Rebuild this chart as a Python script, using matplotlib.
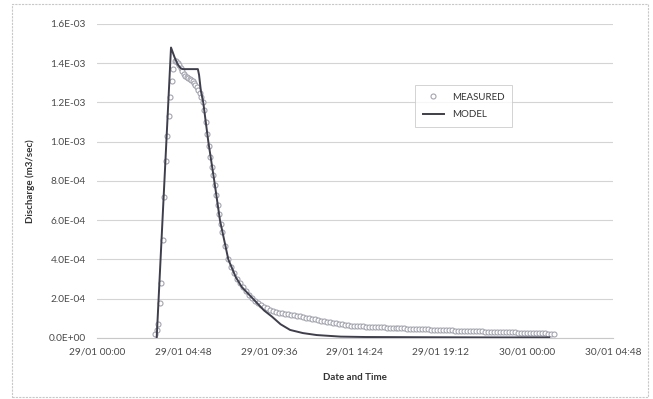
import datetime as dt
import matplotlib
matplotlib.use("Agg")
import matplotlib.pyplot as plt
import matplotlib.dates as mdates
from matplotlib.patches import Rectangle
from matplotlib.ticker import FuncFormatter, MultipleLocator
import pandas as pd

# Measured discharge (units of 1e-4 m3/sec), 5 min steps from 29/01 03:15
measured_fast = [0.2, 0.4, 0.7, 1.8, 2.8, 5.0, 7.2, 9.0, 10.3, 11.3, 12.3, 13.1,
                 13.7, 14.1, 14.1, 14.0, 13.9, 13.75, 13.6, 13.45, 13.35, 13.3,
                 13.25, 13.2, 13.15, 13.1, 13.0, 12.9, 12.8, 12.65, 12.5, 12.3,
                 12.05, 11.6, 11.0, 10.4, 9.8, 9.2, 8.7, 8.3, 7.8, 7.3, 6.8,
                 6.3, 5.8, 5.4]
# Measured discharge (units of 1e-4 m3/sec), 10 min steps from 29/01 07:10
measured_slow = [4.7, 4.05, 3.6, 3.3, 3.0, 2.8, 2.6, 2.4, 2.2, 2.05, 1.9, 1.78,
                 1.68, 1.6, 1.52, 1.45, 1.38, 1.32, 1.28, 1.25, 1.22, 1.2, 1.18,
                 1.16, 1.13, 1.1, 1.07, 1.04, 1.01, 0.98, 0.95, 0.92, 0.89, 0.86,
                 0.83, 0.8, 0.77, 0.74, 0.71, 0.69, 0.67, 0.65, 0.63, 0.62, 0.61,
                 0.6, 0.59, 0.58, 0.57, 0.565, 0.56, 0.55, 0.545, 0.54, 0.53,
                 0.52, 0.51, 0.5, 0.495, 0.49, 0.485, 0.48, 0.475, 0.47, 0.46,
                 0.455, 0.45, 0.44, 0.435, 0.43, 0.425, 0.42, 0.41, 0.405, 0.4,
                 0.39, 0.385, 0.38, 0.375, 0.37, 0.365, 0.36, 0.355, 0.35, 0.345,
                 0.34, 0.335, 0.33, 0.325, 0.32, 0.315, 0.31, 0.305, 0.3, 0.295,
                 0.29, 0.285, 0.28, 0.275, 0.27, 0.265, 0.26, 0.255, 0.25, 0.245,
                 0.24, 0.235, 0.23, 0.225, 0.22, 0.215]

# Model discharge (units of 1e-4 m3/sec)
model_times = ["29/01 03:20", "29/01 04:08", "29/01 04:20", "29/01 04:30",
               "29/01 04:40", "29/01 04:48", "29/01 05:38", "29/01 05:42",
               "29/01 05:48", "29/01 05:56", "29/01 06:13", "29/01 06:33",
               "29/01 06:52", "29/01 07:20", "29/01 07:45", "29/01 08:05",
               "29/01 08:30", "29/01 08:55", "29/01 09:20", "29/01 09:46",
               "29/01 10:15", "29/01 10:47", "29/01 11:30", "29/01 12:16",
               "29/01 13:36", "29/01 15:00", "29/01 18:00", "29/01 22:00",
               "30/01 01:15"]
model_values = [0.0, 14.8, 14.3, 13.95, 13.75, 13.7, 13.7, 13.4, 12.6, 12.0,
                10.0, 8.0, 6.0, 4.0, 3.1, 2.6, 2.2, 1.8, 1.4, 1.09, 0.7, 0.41,
                0.25, 0.15, 0.07, 0.05, 0.04, 0.03, 0.03]

YEAR = 2013
day0 = dt.datetime(YEAR, 1, 29)

t_fast = pd.date_range(day0 + dt.timedelta(hours=3, minutes=15), periods=len(measured_fast), freq="5min")
t_slow = pd.date_range(day0 + dt.timedelta(hours=7, minutes=10), periods=len(measured_slow), freq="10min")
meas_t = list(t_fast) + list(t_slow)
meas_v = [v * 1e-4 for v in measured_fast + measured_slow]

mod_t = [dt.datetime.strptime(f"{YEAR}/{s}", "%Y/%d/%m %H:%M") for s in model_times]
mod_v = [v * 1e-4 for v in model_values]

plt.rcParams["font.family"] = ["Lato", "DejaVu Sans"]

fig = plt.figure(figsize=(6.53, 3.99), dpi=100)
ax = fig.add_axes([0.1485, 0.1529, 0.79, 0.787])

# chart border
fig.patches.append(Rectangle((12 / 653, 2 / 399), 636 / 653, 393 / 399,
                             transform=fig.transFigure, fill=False,
                             edgecolor="#c8c8c8", lw=0.8, ls=(0, (2, 1))))

ax.plot(meas_t, meas_v, ls="none", marker="o", ms=3.6, mfc="white",
        mec="#a4a4b0", mew=0.8, label="MEASURED", zorder=3)
ax.plot(mod_t, mod_v, color="#3e3e4c", lw=1.4, label="MODEL", zorder=4)

ax.set_xlim(day0, day0 + dt.timedelta(hours=28.8))
ax.set_ylim(0, 1.6e-3)
ax.set_xticks([day0 + dt.timedelta(hours=4.8 * i) for i in range(7)])
ax.xaxis.set_major_formatter(mdates.DateFormatter("%d/%m %H:%M"))
ax.yaxis.set_major_locator(MultipleLocator(2e-4))
ax.yaxis.set_major_formatter(FuncFormatter(lambda v, pos: f"{v:.1E}"))

ax.grid(axis="y", color="#d4d4d4", lw=0.8)
ax.set_axisbelow(True)
for side in ["top", "right", "left"]:
    ax.spines[side].set_visible(False)
ax.spines["bottom"].set_color("#c8c8c8")
ax.tick_params(length=0, labelsize=7.3, colors="#4a4a4a", pad=7)
ax.tick_params(axis="y", pad=8)

ax.set_ylabel("Discharge (m3/sec)", fontsize=7, fontweight="bold", color="#333333", labelpad=10)
ax.set_xlabel("Date and Time", fontsize=7, fontweight="bold", color="#333333", labelpad=12)

leg = ax.legend(loc="upper left", bbox_to_anchor=(0.607, 0.822), fontsize=7,
                frameon=True, fancybox=False, edgecolor="#c8c8c8",
                handlelength=2.2, borderpad=0.8, labelspacing=0.9)
leg.get_frame().set_linewidth(0.7)
for t in leg.get_texts():
    t.set_color("#333333")

fig.savefig("out.png", dpi=100)
